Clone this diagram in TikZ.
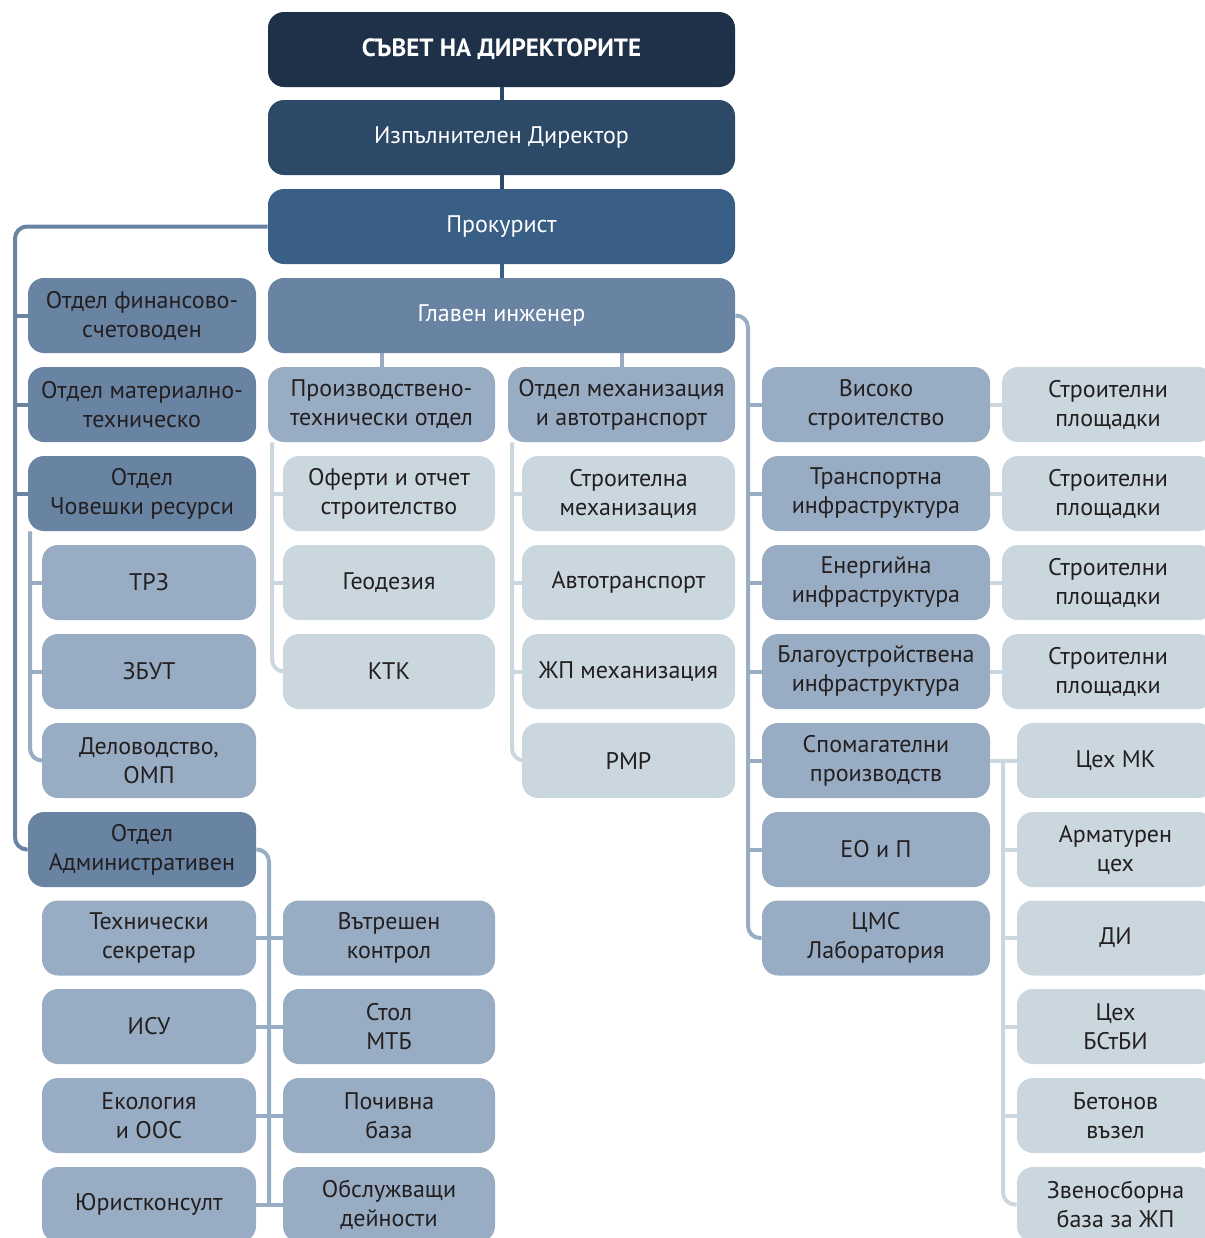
\documentclass[tikz,border=0pt]{standalone}
\usepackage{fontspec}
\setmainfont{PT Sans}
\definecolor{boardnavy}{HTML}{1E3148}
\definecolor{execblue}{HTML}{2C4967}
\definecolor{procblue}{HTML}{3A5F87}
\definecolor{deptblue}{HTML}{6983A3}
\definecolor{unitblue}{HTML}{98ADC3}
\definecolor{sitegray}{HTML}{CAD7DF}
\definecolor{ink}{HTML}{231F20}

\begin{document}
\begin{tikzpicture}[x=0.5pt, y=-0.5pt,
    box/.style={rounded corners=8pt, inner sep=0pt, minimum height=37.5pt,
        align=center, text=ink, font=\fontsize{12}{14.5}\selectfont},
    headbox/.style={box, minimum width=233.5pt, text=white},
    deptbox/.style={box, fill=deptblue, minimum width=114pt},
    unitbox/.style={box, fill=unitblue, minimum width=#1},
    subbox/.style={box, fill=sitegray, minimum width=#1},
    link/.style={line width=2pt, rounded corners=6pt, draw=#1}]
    \useasboundingbox (0,0) rectangle (1205,1238);
    \clip (0,0) rectangle (1205,1238);
    % Top of the chart
    \node[headbox, fill=boardnavy, font=\bfseries\fontsize{12.5}{15}\selectfont]
        (board) at (501.5,49.5) {СЪВЕТ НА ДИРЕКТОРИТЕ};
    \node[headbox, fill=execblue] (exec) at (501.5,137.5) {Изпълнителен Директор};
    \node[headbox, fill=procblue] (proc) at (501.5,226.5) {Прокурист};
    \node[headbox, fill=deptblue] (chief) at (501.5,315.5) {Главен инженер};
    % Left column
    \node[deptbox] (fin) at (142,315.5) {Отдел финансово-\\счетоводен};
    \node[deptbox] (mat) at (142,404.5) {Отдел материално-\\техническо};
    \node[deptbox] (hr) at (142,493.5) {Отдел\\Човешки ресурси};
    \node[unitbox=107pt] (trz) at (149,582.5) {ТРЗ};
    \node[unitbox=107pt] (zbut) at (149,671.5) {ЗБУТ};
    \node[unitbox=107pt] (delo) at (149,760.5) {Деловодство,\\ОМП};
    \node[deptbox] (admin) at (142,849.5) {Отдел\\Административен};
    \node[unitbox=107pt] (techsec) at (149,938) {Технически\\секретар};
    \node[unitbox=107pt] (isu) at (149,1026.5) {ИСУ};
    \node[unitbox=107pt] (eco) at (149,1115.5) {Екология\\и ООС};
    \node[unitbox=107pt] (legal) at (149,1204.5) {Юристконсулт};
    \node[unitbox=106pt] (intctrl) at (389,938) {Вътрешен\\контрол};
    \node[unitbox=106pt] (canteen) at (389,1026.5) {Стол\\МТБ};
    \node[unitbox=106pt] (resort) at (389,1115.5) {Почивна\\база};
    \node[unitbox=106pt] (service) at (389,1204.5) {Обслужващи\\дейности};
    % Middle columns
    \node[unitbox=113.5pt] (ptd) at (381.5,404.5) {Производствено-\\технически отдел};
    \node[subbox=106pt] (offers) at (389,493.5) {Оферти и отчет\\строителство};
    \node[subbox=106pt] (geo) at (389,582.5) {Геодезия};
    \node[subbox=106pt] (ktk) at (389,671.5) {КТК};
    \node[unitbox=113.5pt] (mech) at (621.5,404.5) {Отдел механизация\\и автотранспорт};
    \node[subbox=106.5pt] (cmech) at (628.5,493.5) {Строителна\\механизация};
    \node[subbox=106.5pt] (auto) at (628.5,582.5) {Автотранспорт};
    \node[subbox=106.5pt] (rail) at (628.5,671.5) {ЖП механизация};
    \node[subbox=106.5pt] (rmr) at (628.5,760.5) {РМР};
    % Right columns
    \node[unitbox=114pt] (high) at (876,404.5) {Високо\\строителство};
    \node[unitbox=114pt] (transp) at (876,493.5) {Транспортна\\инфраструктура};
    \node[unitbox=114pt] (energy) at (876,582.5) {Енергийна\\инфраструктура};
    \node[unitbox=114pt] (landsc) at (876,671.5) {Благоустройствена\\инфраструктура};
    \node[unitbox=114pt] (aux) at (876,760.5) {Спомагателни\\производств};
    \node[unitbox=114pt] (eop) at (876,849.5) {ЕО и П};
    \node[unitbox=114pt] (cms) at (876,938) {ЦМС\\Лаборатория};
    \node[subbox=106pt] (siteA) at (1108,404.5) {Строителни\\площадки};
    \node[subbox=106pt] (siteB) at (1108,493.5) {Строителни\\площадки};
    \node[subbox=106pt] (siteC) at (1108,582.5) {Строителни\\площадки};
    \node[subbox=106pt] (siteD) at (1108,671.5) {Строителни\\площадки};
    \node[subbox=98.5pt] (mk) at (1115.5,760.5) {Цех МК};
    \node[subbox=98.5pt] (arm) at (1115.5,849.5) {Арматурен\\цех};
    \node[subbox=98.5pt] (di) at (1115.5,938) {ДИ};
    \node[subbox=98.5pt] (bst) at (1115.5,1026.5) {Цех\\БСтБИ};
    \node[subbox=98.5pt] (concr) at (1115.5,1115.5) {Бетонов\\възел};
    \node[subbox=98.5pt] (railbase) at (1115.5,1204.5) {Звеносборна\\база за ЖП};
    % Bus positions
    \coordinate (lbus) at (15,0);
    \coordinate (hrbus) at (30,0);
    \coordinate (adbus) at (269,0);
    \coordinate (pbus) at (272,0);
    \coordinate (mbus) at (512,0);
    \coordinate (rbus) at (748,0);
    \coordinate (auxbus) at (1003,0);
    % Main trunk
    \draw[link=execblue] (board.south) -- (exec.north);
    \draw[link=execblue] (exec.south) -- (proc.north);
    \draw[link=procblue] (proc.south) -- (chief.north);
    \draw[link=unitblue] (chief.south -| ptd.north) -- (ptd.north);
    \draw[link=unitblue] (chief.south -| mech.north) -- (mech.north);
    % Left bus
    \draw[link=deptblue] (proc.west) -| (lbus |- admin.west) -- (admin.west);
    \draw[link=deptblue] (lbus |- fin.west) -- (fin.west);
    \draw[link=deptblue] (lbus |- mat.west) -- (mat.west);
    \draw[link=deptblue] (lbus |- hr.west) -- (hr.west);
    % Human resources
    \draw[link=unitblue] (hrbus |- hr.south) |- (delo.west);
    \draw[link=unitblue] (hrbus |- trz.west) -- (trz.west);
    \draw[link=unitblue] (hrbus |- zbut.west) -- (zbut.west);
    % Administration
    \draw[link=unitblue] (admin.east) -| (adbus |- legal.east);
    \draw[link=unitblue] (techsec.east) -- (intctrl.west);
    \draw[link=unitblue] (isu.east) -- (canteen.west);
    \draw[link=unitblue] (eco.east) -- (resort.west);
    \draw[link=unitblue] (legal.east) -- (service.west);
    % Production and mechanisation
    \draw[link=sitegray] (pbus |- ptd.south) |- (ktk.west);
    \draw[link=sitegray] (pbus |- offers.west) -- (offers.west);
    \draw[link=sitegray] (pbus |- geo.west) -- (geo.west);
    \draw[link=sitegray] (mbus |- mech.south) |- (rmr.west);
    \draw[link=sitegray] (mbus |- cmech.west) -- (cmech.west);
    \draw[link=sitegray] (mbus |- auto.west) -- (auto.west);
    \draw[link=sitegray] (mbus |- rail.west) -- (rail.west);
    % Right bus
    \draw[link=unitblue] (chief.east) -| (rbus |- cms.west) -- (cms.west);
    \draw[link=unitblue] (rbus |- high.west) -- (high.west);
    \draw[link=unitblue] (rbus |- transp.west) -- (transp.west);
    \draw[link=unitblue] (rbus |- energy.west) -- (energy.west);
    \draw[link=unitblue] (rbus |- landsc.west) -- (landsc.west);
    \draw[link=unitblue] (rbus |- aux.west) -- (aux.west);
    \draw[link=unitblue] (rbus |- eop.west) -- (eop.west);
    % Sites
    \draw[link=sitegray] (high.east) -- (siteA.west);
    \draw[link=sitegray] (transp.east) -- (siteB.west);
    \draw[link=sitegray] (energy.east) -- (siteC.west);
    \draw[link=sitegray] (landsc.east) -- (siteD.west);
    % Auxiliary production
    \draw[link=sitegray] (aux.east) -- (mk.west);
    \draw[link=sitegray] (aux.east -| auxbus) |- (railbase.west);
    \draw[link=sitegray] (auxbus |- arm.west) -- (arm.west);
    \draw[link=sitegray] (auxbus |- di.west) -- (di.west);
    \draw[link=sitegray] (auxbus |- bst.west) -- (bst.west);
    \draw[link=sitegray] (auxbus |- concr.west) -- (concr.west);
\end{tikzpicture}
\end{document}
